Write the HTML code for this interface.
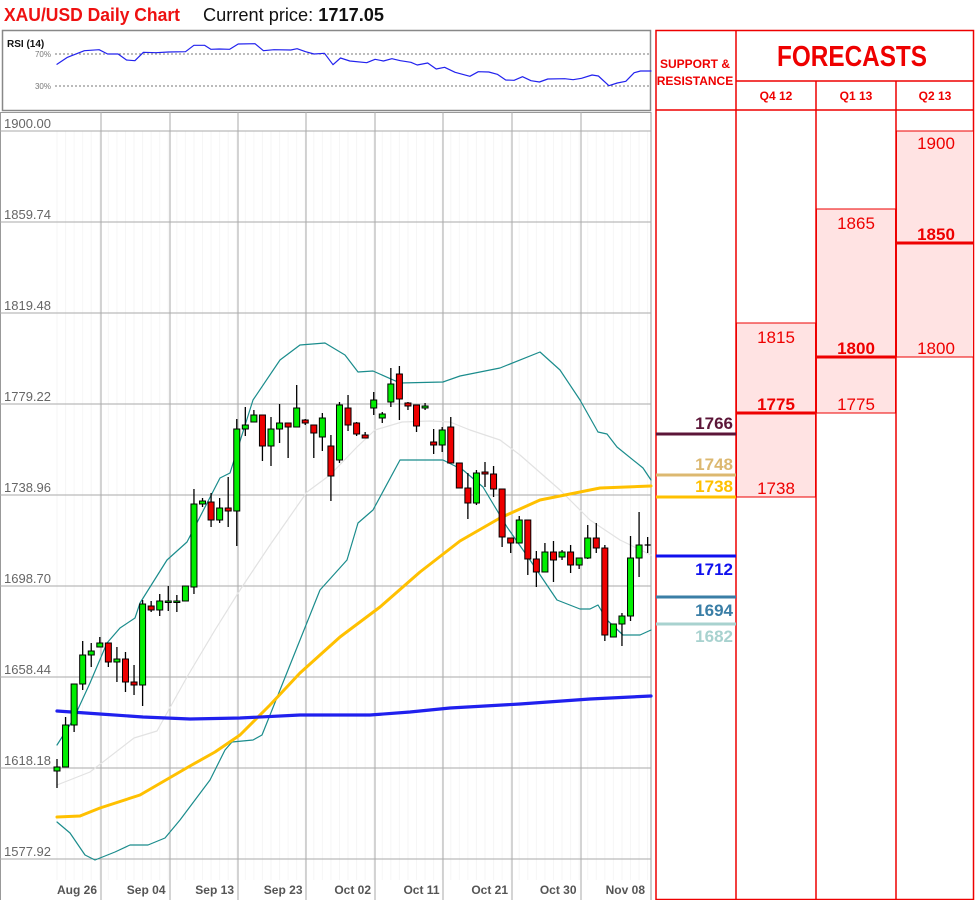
<!DOCTYPE html>
<html><head><meta charset="utf-8">
<style>
body{margin:0;background:#fff;width:975px;height:900px;overflow:hidden;font-family:"Liberation Sans",sans-serif;}
svg{position:absolute;left:0;top:0}
</style></head><body>
<svg id="s" width="975" height="900" viewBox="0 0 975 900" xmlns="http://www.w3.org/2000/svg"></svg>
<script>
var o=[];
function L(x1,y1,x2,y2,c,w,extra){o.push('<line x1="'+x1+'" y1="'+y1+'" x2="'+x2+'" y2="'+y2+'" stroke="'+c+'" stroke-width="'+w+'" '+(extra||'')+'/>');}
function R(x,y,w,h,f,s,sw){o.push('<rect x="'+x+'" y="'+y+'" width="'+w+'" height="'+h+'" fill="'+f+'" stroke="'+(s||'none')+'" stroke-width="'+(sw||1)+'"/>');}
function T(x,y,t,sz,c,anchor,wt){o.push('<text x="'+x+'" y="'+y+'" font-size="'+sz+'" fill="'+c+'" text-anchor="'+(anchor||'start')+'" font-weight="'+(wt||'normal')+'">'+t+'</text>');}
function P(pts,c,w,op){o.push('<polyline fill="none" stroke="'+c+'" stroke-width="'+w+'" stroke-linejoin="round" stroke-linecap="round" '+(op?'opacity="'+op+'"':'')+' points="'+pts.map(function(p){return p.join(',')}).join(' ')+'"/>');}
// title
o.push('<text x="4" y="21" font-size="18" font-weight="bold" fill="#ee1111" textLength="176" lengthAdjust="spacingAndGlyphs">XAU/USD Daily Chart</text>');
o.push('<text x="203" y="21" font-size="18" fill="#111" textLength="181" lengthAdjust="spacingAndGlyphs">Current price: <tspan font-weight="bold">1717.05</tspan></text>');
// RSI box
R(2.5,30.5,648,80,'#fff','#888',1.5);
T(7,47,'RSI (14)',10,'#111','start','bold');
L(55,54,650,54,'#777',1,'stroke-dasharray="2,2"');
L(55,86,650,86,'#777',1,'stroke-dasharray="2,2"');
T(51,57,'70%',8,'#777','end');T(51,89,'30%',8,'#777','end');
var rsi=[[135,193],[160,172],[190,157],[200,152],[235,149],[255,162],[280,162],[300,180],[320,182],[340,157],[370,158],[400,156],[440,155],[460,136],[485,136],[500,148],[520,147],[545,148],[565,132],[605,131],[625,152],[650,149],[690,150],[705,146],[725,155],[745,162],[770,160],[790,194],[808,174],[830,183],[870,188],[890,178],[910,183],[930,176],[950,182],[975,187],[990,195],[1015,189],[1035,207],[1055,202],[1080,217],[1115,229],[1135,215],[1160,216],[1180,223],[1200,240],[1220,241],[1240,230],[1260,242],[1280,246],[1300,237],[1340,236],[1360,239],[1380,235],[1405,225],[1420,228],[1445,257],[1465,249],[1485,244],[1505,218],[1520,213],[1545,213]];
P(rsi.map(function(p){return [(57+(p[0]-135)*0.4213).toFixed(1),(p[1]/3).toFixed(1)]}),'#2222ee',1.2);
// main chart box
R(0.5,112.5,650.5,790,'#fff','#999',1);
for(var i=0;i<70;i++){var x=57+i*8.56;L(x,131,x,880,'#f6f6f6',1);}
var maj=[101,170,238,306,375,443,512,581];
maj.forEach(function(x){L(x,112,x,900,'#aaa',1);});
var labs=['1900.00','1859.74','1819.48','1779.22','1738.96','1698.70','1658.44','1618.18','1577.92'];
for(var k=0;k<9;k++){var y=131+91*k;L(0,y,651,y,'#aaa',1);T(4,y-3,labs[k],13,'#666');}
var xl=['Aug 26','Sep 04','Sep 13','Sep 23','Oct 02','Oct 11','Oct 21','Oct 30','Nov 08'];
xl.forEach(function(t,j){T(97+68.5*j,894,t,12,'#555','end','bold');});
// MA20 gray
P([[57,785],[90,772],[134,738],[157,731],[187,677],[215,630],[240,590],[270,545],[307,492],[330,475],[357,447],[375,430],[402,422],[430,421],[450,422],[470,430],[500,440],[520,455],[560,490],[590,520],[620,540],[651,555]],'#e2e2e2',1.2);
// bollinger
var up=[[57,745],[73,720],[90,683],[107,643],[120,628],[135,618],[140,603],[167,560],[187,542],[220,478],[230,473],[253,400],[280,360],[300,345],[325,343],[345,355],[358,372],[373,371],[400,383],[443,382],[460,376],[500,368],[540,352],[560,370],[580,400],[598,432],[607,434],[617,447],[643,468],[651,480]];
var lo=[[57,822],[70,833],[85,855],[95,860],[115,852],[130,845],[148,845],[165,838],[180,820],[195,800],[210,780],[225,750],[232,742],[253,740],[262,735],[280,690],[300,640],[320,590],[347,560],[358,523],[373,510],[400,460],[443,460],[463,470],[483,487],[507,527],[530,560],[557,600],[580,609],[590,609],[598,605],[607,620],[623,635],[640,635],[651,630]];
P(up,'#1a8c8c',1.2);P(lo,'#1a8c8c',1.2);
// MA50 yellow
P([[57,817],[80,816],[100,808],[140,795],[190,766],[215,752],[240,735],[270,705],[300,673],[340,637],[380,607],[420,572],[460,541],[500,518],[540,500],[600,488],[651,486]],'#ffc000',3);
// MA200 blue
P([[57,711],[100,714],[143,717],[190,719],[240,718],[300,715],[370,715],[410,712],[450,708],[520,704],[590,699],[651,696]],'#2020ee',3.2);
var c=[[767,771,759,788,1],[725,767,717,767,1],[684,725,684,732,1],[655,684,641,690,1],[651,655,643,667,1],[643,647,637,647,1],[643,662,643,667,0],[659,662,647,682,1],[659,682,652,692,0],[682,685,665,695,0],[604,685,600,706,1],[606,610,601,612,0],[601,610,594,616,1],[601,602,586,611,1],[601,602,595,612,1],[586,601,586,601,1],[504,587,489,594,1],[501,504,498,507,1],[502,520,493,527,0],[508,520,498,523,1],[508,511,477,527,0],[429,511,419,546,1],[425,429,407,436,1],[415,422,410,422,1],[415,446,415,461,0],[429,446,417,466,1],[423,429,404,443,1],[423,427,423,458,0],[408,427,385,427,1],[420,423,419,425,0],[425,433,425,458,0],[418,437,413,451,1],[446,476,435,501,0],[405,460,402,463,1],[408,425,395,431,0],[423,434,422,436,0],[435,438,432,438,0],[400,408,392,415,1],[414,418,412,423,1],[384,402,368,407,1],[374,399,366,420,0],[403,406,402,410,0],[405,426,405,432,0],[406,408,403,410,1],[442,445,429,454,0],[430,445,427,452,1],[427,463,417,463,0],[463,488,463,488,0],[488,503,473,519,0],[473,503,470,505,1],[472,474,462,487,0],[474,489,466,497,0],[489,537,489,547,0],[538,543,538,553,0],[520,543,516,543,1],[520,559,520,575,0],[559,572,551,587,0],[552,572,543,572,1],[552,560,541,582,0],[552,557,550,560,1],[552,565,545,573,0],[558,565,558,569,1],[538,558,525,559,1],[538,548,523,553,0],[548,635,545,641,0],[624,637,624,637,1],[616,624,613,646,1],[558,616,536,621,1],[545,558,512,577,1],[545,546,537,553,1]];
c.forEach(function(d,i){var x=57+i*8.56;L(x,d[2],x,d[3],'#000',1.3);var h=Math.max(d[1]-d[0],1.5);
 if(i==69){L(x-3,d[0],x+3,d[0],'#000',1.3);return;}
 R(x-3,d[0],6,h,d[4]?'#00ee00':'#ee0000','#000',1);});
// right panel
var red='#ee0000';
R(656,30.5,317.5,869,'#fff',red,1.5);
L(736,30,736,900,red,1.5);L(816,81,816,900,red,1.5);L(896,81,896,900,red,1.5);
L(736,81,974,81,red,1.5);L(656,110,974,110,red,1.5);
T(695,68,'SUPPORT &amp;',12,red,'middle','bold');T(695,85,'RESISTANCE',12,red,'middle','bold');
o.push('<text x="852" y="66" font-size="29" font-weight="bold" fill="'+red+'" text-anchor="middle" textLength="150" lengthAdjust="spacingAndGlyphs">FORECASTS</text>');
T(776,100,'Q4 12',12,red,'middle','bold');T(856,100,'Q1 13',12,red,'middle','bold');T(935,100,'Q2 13',12,red,'middle','bold');
var pk='#ffe3e3';
R(736.5,323,79,174,pk,red,1);R(816.5,209,79,204,pk,red,1);R(896.5,131,77,226,pk,red,1);
L(736,413,816,413,red,3);L(816,357,896,357,red,3);L(896,243,974,243,red,3);
T(776,343,'1815',17,red,'middle');T(776,410,'1775',17,red,'middle','bold');T(776,494,'1738',17,red,'middle');
T(856,229,'1865',17,red,'middle');T(856,354,'1800',17,red,'middle','bold');T(856,410,'1775',17,red,'middle');
T(936,149,'1900',17,red,'middle');T(936,240,'1850',17,red,'middle','bold');T(936,354,'1800',17,red,'middle');
var sr=[[434,'#5c1638','1766',-5],[475,'#dcb870','1748',-5],[497,'#ffc000','1738',-5],[556,'#1010ee','1712',19],[597,'#3a7ea6','1694',19],[624,'#a8d2cf','1682',18]];
sr.forEach(function(s){L(656,s[0],736,s[0],s[1],3);T(733,s[0]+s[3],s[2],17,s[1],'end','bold');});
document.getElementById('s').innerHTML=o.join('');
</script>
</body></html>
